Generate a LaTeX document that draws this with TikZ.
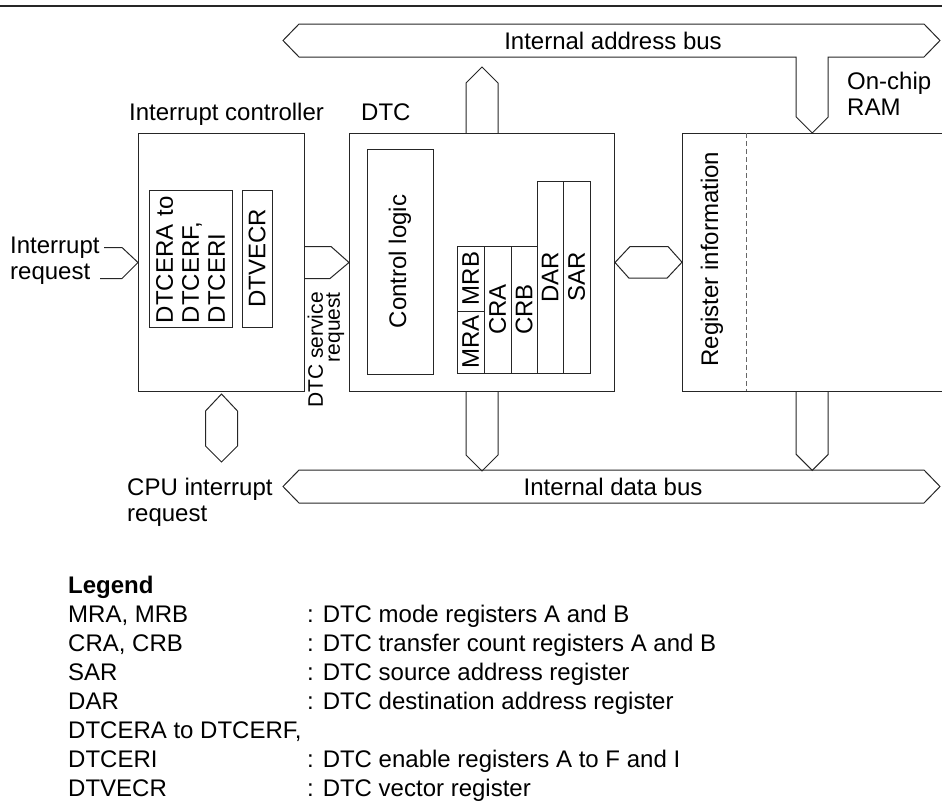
\documentclass[tikz,border=0pt]{standalone}
\usepackage{fontspec}
\setmainfont{Liberation Sans}
\usetikzlibrary{positioning, calc}
\tikzset{
  ln/.style={draw=black!85, line width=1pt},
  lbl/.style={inner sep=0pt, font=\fontsize{24}{26}\selectfont},
  box/.style={ln, inner sep=0pt, anchor=north west},
  reg/.style={ln, lbl, rotate=90},
  bus/.style={ln, line join=miter},
}
\begin{document}
\begin{tikzpicture}[x=1pt, y=-1pt]
  \useasboundingbox (0,0) rectangle (942,803);
  \draw[ln, line width=1.4pt] (0,6) -- (942,6);
  % Blocks
  \node[box, minimum width=166pt, minimum height=258pt] (ic) at (138,133) {};
  \node[box, minimum width=265pt, minimum height=258pt] (dtc) at (349,133) {};
  \node[inner sep=0pt, anchor=north west, minimum width=260pt, minimum height=258pt] (ram) at (682,133) {};
  \draw[ln] (ram.north east) -- (ram.north west) -- (ram.south west) -- (ram.south east);
  \draw[ln, draw=black!60, line width=0.8pt, dash pattern=on 5pt off 3pt]
    ($(ram.north west)+(64,0)$) -- ($(ram.south west)+(64,0)$);
  % Block titles
  \node[lbl, anchor=base west] (ictitle) at (129,120) {Interrupt controller};
  \node[lbl, anchor=base west] (dtctitle) at (361,120) {DTC};
  \node[lbl, align=left, anchor=west] (ramtitle) at (847,94) {On-chip\\RAM};
  % Registers in the interrupt controller
  \node[reg, minimum width=137pt, minimum height=83pt, text width=129pt,
    inner xsep=4pt, inner ysep=0pt, align=left] (dtcer) at (190.5,258.5) {DTCERA to\\DTCERF,\\DTCERI};
  \node[reg, minimum width=137pt, minimum height=30pt, inner sep=0pt] (dtvecr) at (257,258.5) {DTVECR};
  % Inside the DTC
  \node[reg, minimum width=225pt, minimum height=66pt] (ctrl) at (400,261.5) {Control logic};
  \node[reg, minimum width=65pt, minimum height=27pt] (mrb) at (470.5,278.5) {MRB};
  \node[reg, minimum width=62pt, minimum height=27pt] (mra) at (470.5,342) {MRA};
  \node[reg, minimum width=127pt, minimum height=27pt] (cra) at (497.5,309.5) {CRA};
  \node[reg, minimum width=127pt, minimum height=26pt] (crb) at (524,309.5) {CRB};
  \node[reg, minimum width=192pt, minimum height=26pt] (dar) at (550,277) {DAR};
  \node[reg, minimum width=192pt, minimum height=27pt] (sar) at (576.5,277) {SAR};
  % RAM contents
  \node[lbl, rotate=90] (reginfo) at (712,259) {Register information};
  % Buses
  \draw[bus] (283,40.5) -- (299,24) -- (924,24) -- (940,40.5) -- (924,57) -- (828,57)
    -- ($(ram.north)+(16,-16)$) -- (ram.north) -- ($(ram.north)+(-16,-16)$)
    -- (796,57) -- (299,57) -- cycle;
  \node[lbl] (abus) at (613,41) {Internal address bus};
  \draw[bus] (283,486.5) -- (299,470) -- (924,470) -- (940,486.5) -- (924,503)
    -- (299,503) -- cycle;
  \node[lbl] (dbus) at (613,487) {Internal data bus};
  % Bus connections
  \draw[bus] ($(dtc.north)+(-16,0)$) -- ++(0,-50) -- ++(16,-16) -- ++(16,16) -- ++(0,50);
  \draw[bus] ($(dtc.south)+(-16,0)$) -- ++(0,63) -- ++(16,16) -- ++(16,-16) -- ++(0,-63);
  \draw[bus] ($(ram.south)+(-16,0)$) -- ++(0,63) -- ++(16,16) -- ++(16,-16) -- ++(0,-63);
  \draw[bus] (dtc.east) -- ++(15,-16) -- ++(38,0) -- (ram.west) -- ++(-15,16) -- ++(-38,0) -- cycle;
  \draw[bus] ($(ic.south)+(0,2)$) -- ++(16,17) -- ++(0,35) -- ++(-16,16) -- ++(-16,-16)
    -- ++(0,-35) -- cycle;
  % Request signals
  \node[lbl, align=left, anchor=west] (irq) at (10,261) {Interrupt\\request};
  \draw[bus] ($(ic.west)+(-34,-15)$) -- ++(18,0) -- (ic.west) -- ++(-16,16) -- ++(-22,0);
  \draw[bus] ($(ic.east)+(0,-16)$) -- ++(26,0) -- (dtc.west) -- ++(-19,16) -- ++(-26,0);
  \node[lbl, font=\fontsize{21}{17}\selectfont, rotate=90, align=right, anchor=east]
    (svc) at (326,292) {DTC service\\request};
  \node[lbl, align=left, anchor=west] (cpuirq) at (127,502) {CPU interrupt\\request};
  % Legend
  \node[lbl, font=\bfseries\fontsize{24}{26}\selectfont, anchor=base west] (legend) at (68,593) {Legend};
  \foreach \i/\key/\desc in {1/{MRA, MRB}/{: DTC mode registers A and B},
      2/{CRA, CRB}/{: DTC transfer count registers A and B},
      3/SAR/{: DTC source address register},
      4/DAR/{: DTC destination address register},
      6/DTCERI/{: DTC enable registers A to F and I},
      7/DTVECR/{: DTC vector register}} {
    \node[lbl, anchor=base west] (key\i) at (68,593+29*\i) {\key};
    \node[lbl, anchor=base west] (desc\i) at (307,593+29*\i) {\desc};
  }
  \node[lbl, anchor=base west] (key5) at (68,738) {DTCERA to DTCERF,};
\end{tikzpicture}
\end{document}
